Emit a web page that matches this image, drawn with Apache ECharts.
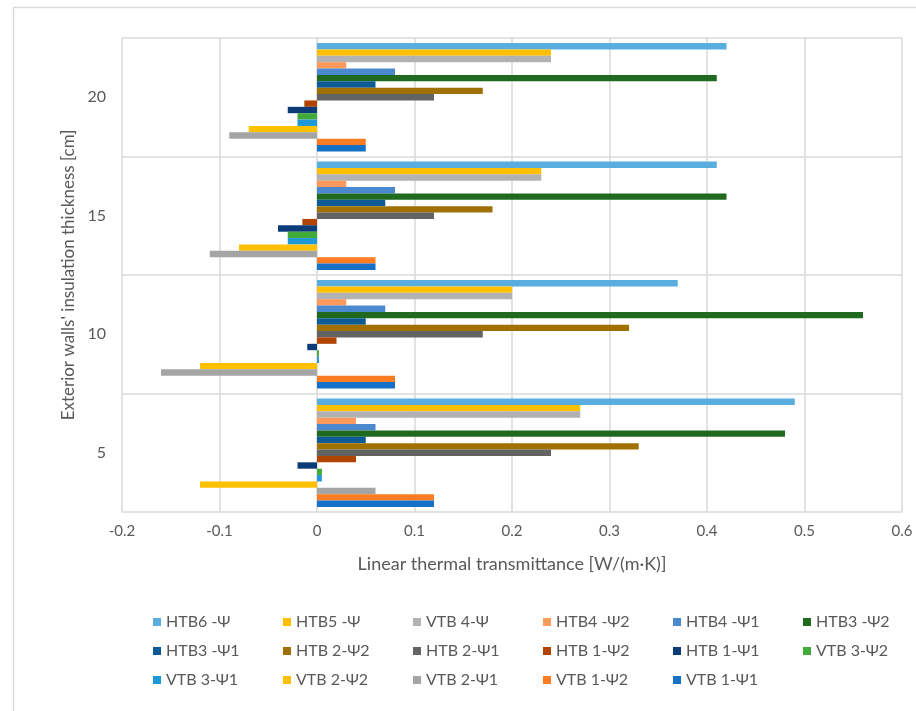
<!DOCTYPE html>
<html>
<head>
<meta charset="utf-8">
<script src="https://cdn.jsdelivr.net/npm/echarts@6/dist/echarts.min.js"></script>
<style>
html,body{margin:0;padding:0;background:#fff;}
#chart{width:916px;height:711px;}
</style>
</head>
<body>
<div id="chart"></div>
<script>
// Categories (insulation thickness, cm), bottom to top
var categories = ['5', '10', '15', '20'];

// Legend / display order (top of each group first)
var seriesNames = ['HTB6 -Ψ', 'HTB5 -Ψ', 'VTB 4-Ψ', 'HTB4 -Ψ2', 'HTB4 -Ψ1', 'HTB3 -Ψ2',
  'HTB3 -Ψ1', 'HTB 2-Ψ2', 'HTB 2-Ψ1', 'HTB 1-Ψ2', 'HTB 1-Ψ1', 'VTB 3-Ψ2',
  'VTB 3-Ψ1', 'VTB 2-Ψ2', 'VTB 2-Ψ1', 'VTB 1-Ψ2', 'VTB 1-Ψ1'];

// Values per series for categories 5, 10, 15, 20
var HTB6_psi   = [0.49, 0.37, 0.41, 0.42];
var HTB5_psi   = [0.27, 0.20, 0.23, 0.24];
var VTB4_psi   = [0.27, 0.20, 0.23, 0.24];
var HTB4_psi2  = [0.04, 0.03, 0.03, 0.03];
var HTB4_psi1  = [0.06, 0.07, 0.08, 0.08];
var HTB3_psi2  = [0.48, 0.56, 0.42, 0.41];
var HTB3_psi1  = [0.05, 0.05, 0.07, 0.06];
var HTB2_psi2  = [0.33, 0.32, 0.18, 0.17];
var HTB2_psi1  = [0.24, 0.17, 0.12, 0.12];
var HTB1_psi2  = [0.04, 0.02, -0.015, -0.013];
var HTB1_psi1  = [-0.02, -0.01, -0.04, -0.03];
var VTB3_psi2  = [0.005, 0.002, -0.03, -0.02];
var VTB3_psi1  = [0.005, 0.002, -0.03, -0.02];
var VTB2_psi2  = [-0.12, -0.12, -0.08, -0.07];
var VTB2_psi1  = [0.06, -0.16, -0.11, -0.09];
var VTB1_psi2  = [0.12, 0.08, 0.06, 0.05];
var VTB1_psi1  = [0.12, 0.08, 0.06, 0.05];

var seriesValues = [HTB6_psi, HTB5_psi, VTB4_psi, HTB4_psi2, HTB4_psi1, HTB3_psi2,
  HTB3_psi1, HTB2_psi2, HTB2_psi1, HTB1_psi2, HTB1_psi1, VTB3_psi2,
  VTB3_psi1, VTB2_psi2, VTB2_psi1, VTB1_psi2, VTB1_psi1];

var seriesColors = ['#5AADDF', '#FFC000', '#B2B2B2', '#FF9A5C', '#4A88CF', '#1F6A1E',
  '#0D5B94', '#A07000', '#636363', '#B04400', '#0B3C78', '#42AA3A',
  '#1E98D8', '#FFC000', '#A5A5A5', '#FD7C23', '#1570C8'];

var xTicks = [-0.2, -0.1, 0, 0.1, 0.2, 0.3, 0.4, 0.5, 0.6];

var FONT = "Lato, 'Open Sans', sans-serif";
var TXT = '#595959';

var series = [];
for (var i = 0; i < seriesNames.length; i++) {
  series.push({
    name: seriesNames[i],
    type: 'bar',
    data: seriesValues[i],
    barGap: '0%',
    barCategoryGap: '8.5%',
    itemStyle: { color: seriesColors[i] }
  });
}

var chart = echarts.init(document.getElementById('chart'), null, { renderer: 'canvas' });
chart.setOption({
  backgroundColor: '#ffffff',
  animation: false,
  graphic: [{
    type: 'rect',
    shape: { x: 13.5, y: 7.5, width: 960, height: 760 },
    style: { fill: 'none', stroke: '#D9D9D9', lineWidth: 1.5 },
    silent: true
  }],
  grid: { left: 122, right: 14, top: 38, bottom: 199, containLabel: false },
  legend: {
    data: seriesNames,
    left: 148,
    top: 606,
    width: 780,
    orient: 'horizontal',
    icon: 'rect',
    itemWidth: 8,
    itemHeight: 8,
    itemGap: 7,
    textStyle: { fontFamily: FONT, fontSize: 16, color: TXT, width: 110, lineHeight: 22, padding: [0, 0, 0, 0] }
  },
  xAxis: {
    type: 'value',
    min: -0.2,
    max: 0.6,
    interval: 0.1,
    name: 'Linear thermal transmittance [W/(m·K)]',
    nameLocation: 'middle',
    nameGap: 43,
    nameTextStyle: { fontFamily: FONT, fontSize: 18, color: TXT },
    axisLine: { show: false },
    axisTick: { show: false },
    axisLabel: {
      fontFamily: FONT, fontSize: 15, color: TXT, margin: 12,
      formatter: function (v) { return String(Math.round(v * 10) / 10); }
    },
    splitLine: { show: true, lineStyle: { color: '#D9D9D9', width: 1.5 } }
  },
  yAxis: {
    type: 'category',
    data: categories,
    name: "Exterior walls' insulation thickness [cm]",
    nameLocation: 'middle',
    nameGap: 43,
    nameTextStyle: { fontFamily: FONT, fontSize: 17, color: TXT },
    axisLine: { show: false },
    axisTick: { show: false },
    axisLabel: { fontFamily: FONT, fontSize: 16, color: TXT, margin: 16 },
    splitLine: { show: true, lineStyle: { color: '#D9D9D9', width: 1.5 } }
  },
  series: series
});
</script>
</body>
</html>
